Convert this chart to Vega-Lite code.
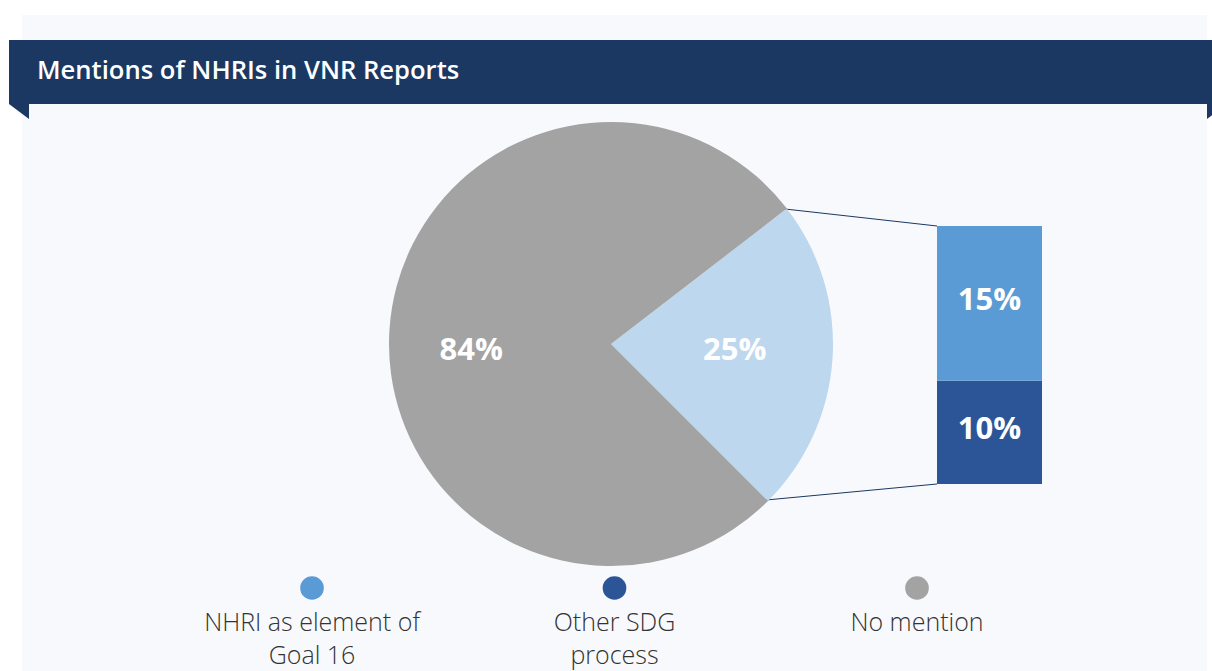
{
  "$schema": "https://vega.github.io/schema/vega-lite/v6.json",
  "width": 1212,
  "height": 671,
  "padding": 0,
  "autosize": {"type": "none"},
  "background": "#ffffff",
  "config": {"view": {"stroke": null}, "text": {"font": "Open Sans"}},
  "datasets": {
    "pie": [
      {"category": "Mentions NHRI", "value": 25, "label": "25%", "ord": 1},
      {"category": "No mention", "value": 84, "label": "84%", "ord": 2}
    ],
    "bar": [
      {"category": "Other SDG process", "value": 10, "label": "10%", "ord": 1},
      {"category": "NHRI as element of Goal 16", "value": 15, "label": "15%", "ord": 2}
    ],
    "legend": [
      {"category": "NHRI as element of Goal 16", "lines": ["NHRI as element of", "Goal 16"]},
      {"category": "Other SDG process", "lines": ["Other SDG", "process"]},
      {"category": "No mention", "lines": ["No mention"]}
    ],
    "title": [{"text": "Mentions of NHRIs in VNR Reports"}]
  },
  "resolve": {"scale": {"x": "independent", "y": "independent", "color": "independent", "theta": "independent"}},
  "layer": [
    {
      "data": {"name": "title"},
      "mark": {"type": "rect", "color": "#f8f9fd"},
      "encoding": {
        "x": {"datum": 22, "type": "quantitative", "scale": {"domain": [0, 1212], "nice": false, "zero": false}, "axis": null},
        "x2": {"datum": 1207},
        "y": {"datum": 15, "type": "quantitative", "scale": {"domain": [0, 671], "reverse": true, "nice": false, "zero": false}, "axis": null},
        "y2": {"datum": 671}
      }
    },
    {
      "data": {"name": "title"},
      "mark": {"type": "rect", "color": "#1a3862"},
      "encoding": {
        "x": {"datum": 9, "type": "quantitative", "scale": {"domain": [0, 1212], "nice": false, "zero": false}, "axis": null},
        "x2": {"datum": 1212},
        "y": {"datum": 40, "type": "quantitative", "scale": {"domain": [0, 671], "reverse": true, "nice": false, "zero": false}, "axis": null},
        "y2": {"datum": 104}
      }
    },
    {
      "data": {"name": "title"},
      "mark": {"type": "point", "shape": "M-1,-0.75L1,-0.75L1,0.75Z", "size": 400, "filled": true, "color": "#1a3862", "opacity": 1, "strokeWidth": 0},
      "encoding": {
        "x": {"datum": 19, "type": "quantitative", "scale": {"domain": [0, 1212], "nice": false, "zero": false}, "axis": null},
        "y": {"datum": 111.5, "type": "quantitative", "scale": {"domain": [0, 671], "reverse": true, "nice": false, "zero": false}, "axis": null}
      }
    },
    {
      "data": {"name": "title"},
      "mark": {"type": "point", "shape": "M-1,-0.75L1,-0.75L-1,0.75Z", "size": 400, "filled": true, "color": "#1a3862", "opacity": 1, "strokeWidth": 0},
      "encoding": {
        "x": {"datum": 1217, "type": "quantitative", "scale": {"domain": [0, 1212], "nice": false, "zero": false}, "axis": null},
        "y": {"datum": 111.5, "type": "quantitative", "scale": {"domain": [0, 671], "reverse": true, "nice": false, "zero": false}, "axis": null}
      }
    },
    {
      "data": {"name": "title"},
      "mark": {"type": "text", "align": "left", "baseline": "alphabetic", "fontSize": 25.6, "fontWeight": 600, "color": "#ffffff"},
      "encoding": {
        "text": {"field": "text"},
        "x": {"datum": 37, "type": "quantitative", "scale": {"domain": [0, 1212], "nice": false, "zero": false}, "axis": null},
        "y": {"datum": 79, "type": "quantitative", "scale": {"domain": [0, 671], "reverse": true, "nice": false, "zero": false}, "axis": null}
      }
    },
    {
      "data": {"name": "title"},
      "mark": {"type": "rule", "color": "#1a3862", "strokeWidth": 1},
      "encoding": {
        "x": {"datum": 785, "type": "quantitative", "scale": {"domain": [0, 1212], "nice": false, "zero": false}, "axis": null},
        "x2": {"datum": 937},
        "y": {"datum": 209, "type": "quantitative", "scale": {"domain": [0, 671], "reverse": true, "nice": false, "zero": false}, "axis": null},
        "y2": {"datum": 226}
      }
    },
    {
      "data": {"name": "title"},
      "mark": {"type": "rule", "color": "#1a3862", "strokeWidth": 1},
      "encoding": {
        "x": {"datum": 766, "type": "quantitative", "scale": {"domain": [0, 1212], "nice": false, "zero": false}, "axis": null},
        "x2": {"datum": 937},
        "y": {"datum": 500, "type": "quantitative", "scale": {"domain": [0, 671], "reverse": true, "nice": false, "zero": false}, "axis": null},
        "y2": {"datum": 484}
      }
    },
    {
      "data": {"name": "pie"},
      "mark": {"type": "arc", "outerRadius": 222, "strokeWidth": 0},
      "encoding": {
        "theta": {"field": "value", "type": "quantitative", "stack": true, "scale": {"range": [0.915, 7.198]}},
        "order": {"field": "ord", "type": "quantitative"},
        "color": {"field": "category", "type": "nominal", "scale": {"domain": ["Mentions NHRI", "No mention"], "range": ["#bdd7ee", "#a3a3a3"]}, "legend": null},
        "x": {"datum": 611, "type": "quantitative", "scale": {"domain": [0, 1212], "nice": false, "zero": false}, "axis": null},
        "y": {"datum": 344, "type": "quantitative", "scale": {"domain": [0, 671], "reverse": true, "nice": false, "zero": false}, "axis": null}
      }
    },
    {
      "data": {"name": "pie"},
      "transform": [
        {"stack": "value", "groupby": [], "sort": [{"field": "ord"}], "as": ["t0", "t1"]},
        {"fold": ["t0", "t1"], "as": ["k", "t"]},
        {"aggregate": [{"op": "mean", "field": "t", "as": "tm"}], "groupby": ["label", "ord"]},
        {"filter": "datum.ord == 2"}
      ],
      "mark": {"type": "text", "radius": 140, "dy": 16, "fontSize": 31, "fontWeight": "bold", "color": "#ffffff", "align": "center", "baseline": "middle"},
      "encoding": {
        "theta": {"field": "tm", "type": "quantitative", "stack": null, "scale": {"domain": [0, 109], "range": [0.915, 7.198], "zero": false, "nice": false}},
        "text": {"field": "label"},
        "x": {"datum": 611, "type": "quantitative", "scale": {"domain": [0, 1212], "nice": false, "zero": false}, "axis": null},
        "y": {"datum": 344, "type": "quantitative", "scale": {"domain": [0, 671], "reverse": true, "nice": false, "zero": false}, "axis": null}
      }
    },
    {
      "data": {"name": "pie"},
      "transform": [
        {"stack": "value", "groupby": [], "sort": [{"field": "ord"}], "as": ["t0", "t1"]},
        {"fold": ["t0", "t1"], "as": ["k", "t"]},
        {"aggregate": [{"op": "mean", "field": "t", "as": "tm"}], "groupby": ["label", "ord"]},
        {"filter": "datum.ord == 1"}
      ],
      "mark": {"type": "text", "radius": 124, "dy": -1, "fontSize": 31, "fontWeight": "bold", "color": "#ffffff", "align": "center", "baseline": "middle"},
      "encoding": {
        "theta": {"field": "tm", "type": "quantitative", "stack": null, "scale": {"domain": [0, 109], "range": [0.915, 7.198], "zero": false, "nice": false}},
        "text": {"field": "label"},
        "x": {"datum": 611, "type": "quantitative", "scale": {"domain": [0, 1212], "nice": false, "zero": false}, "axis": null},
        "y": {"datum": 344, "type": "quantitative", "scale": {"domain": [0, 671], "reverse": true, "nice": false, "zero": false}, "axis": null}
      }
    },
    {
      "data": {"name": "bar"},
      "transform": [
        {"stack": "value", "groupby": [], "sort": [{"field": "ord"}], "as": ["v0", "v1"]}
      ],
      "mark": {"type": "rect"},
      "encoding": {
        "x": {"datum": 937, "type": "quantitative", "scale": {"domain": [0, 1212], "nice": false, "zero": false}, "axis": null},
        "x2": {"datum": 1042},
        "y": {"field": "v1", "type": "quantitative", "scale": {"domain": [-18.12, 46.9], "nice": false, "zero": false}, "axis": null},
        "y2": {"field": "v0"},
        "color": {"field": "category", "type": "nominal", "scale": {"domain": ["NHRI as element of Goal 16", "Other SDG process"], "range": ["#5b9bd5", "#2c5597"]}, "legend": null}
      }
    },
    {
      "data": {"name": "bar"},
      "transform": [
        {"stack": "value", "groupby": [], "sort": [{"field": "ord"}], "as": ["v0", "v1"]},
        {"fold": ["v0", "v1"], "as": ["k", "v"]},
        {"aggregate": [{"op": "mean", "field": "v", "as": "vm"}], "groupby": ["label", "ord"]}
      ],
      "mark": {"type": "text", "fontSize": 31, "fontWeight": "bold", "color": "#ffffff", "align": "center", "baseline": "middle", "dy": -2},
      "encoding": {
        "x": {"datum": 989.5, "type": "quantitative", "scale": {"domain": [0, 1212], "nice": false, "zero": false}, "axis": null},
        "y": {"field": "vm", "type": "quantitative", "scale": {"domain": [-18.12, 46.9], "nice": false, "zero": false}, "axis": null},
        "text": {"field": "label"}
      }
    },
    {
      "data": {"name": "legend"},
      "mark": {"type": "point", "filled": true, "opacity": 1, "size": 560, "strokeWidth": 0},
      "encoding": {
        "x": {"field": "category", "type": "nominal", "scale": {"type": "point", "domain": ["NHRI as element of Goal 16", "Other SDG process", "No mention"], "range": [312, 917], "padding": 0}, "axis": null},
        "y": {"datum": 588, "type": "quantitative", "scale": {"domain": [0, 671], "reverse": true, "nice": false, "zero": false}, "axis": null},
        "color": {"field": "category", "type": "nominal", "scale": {"domain": ["NHRI as element of Goal 16", "Other SDG process", "No mention"], "range": ["#5b9bd5", "#2c5597", "#a3a3a3"]}, "legend": null}
      }
    },
    {
      "data": {"name": "legend"},
      "mark": {"type": "text", "fontSize": 25, "fontWeight": 300, "color": "#333333", "align": "center", "baseline": "alphabetic", "lineHeight": 33},
      "encoding": {
        "x": {"field": "category", "type": "nominal", "scale": {"type": "point", "domain": ["NHRI as element of Goal 16", "Other SDG process", "No mention"], "range": [312, 917], "padding": 0}, "axis": null},
        "y": {"datum": 631, "type": "quantitative", "scale": {"domain": [0, 671], "reverse": true, "nice": false, "zero": false}, "axis": null},
        "text": {"field": "lines"}
      }
    }
  ]
}
